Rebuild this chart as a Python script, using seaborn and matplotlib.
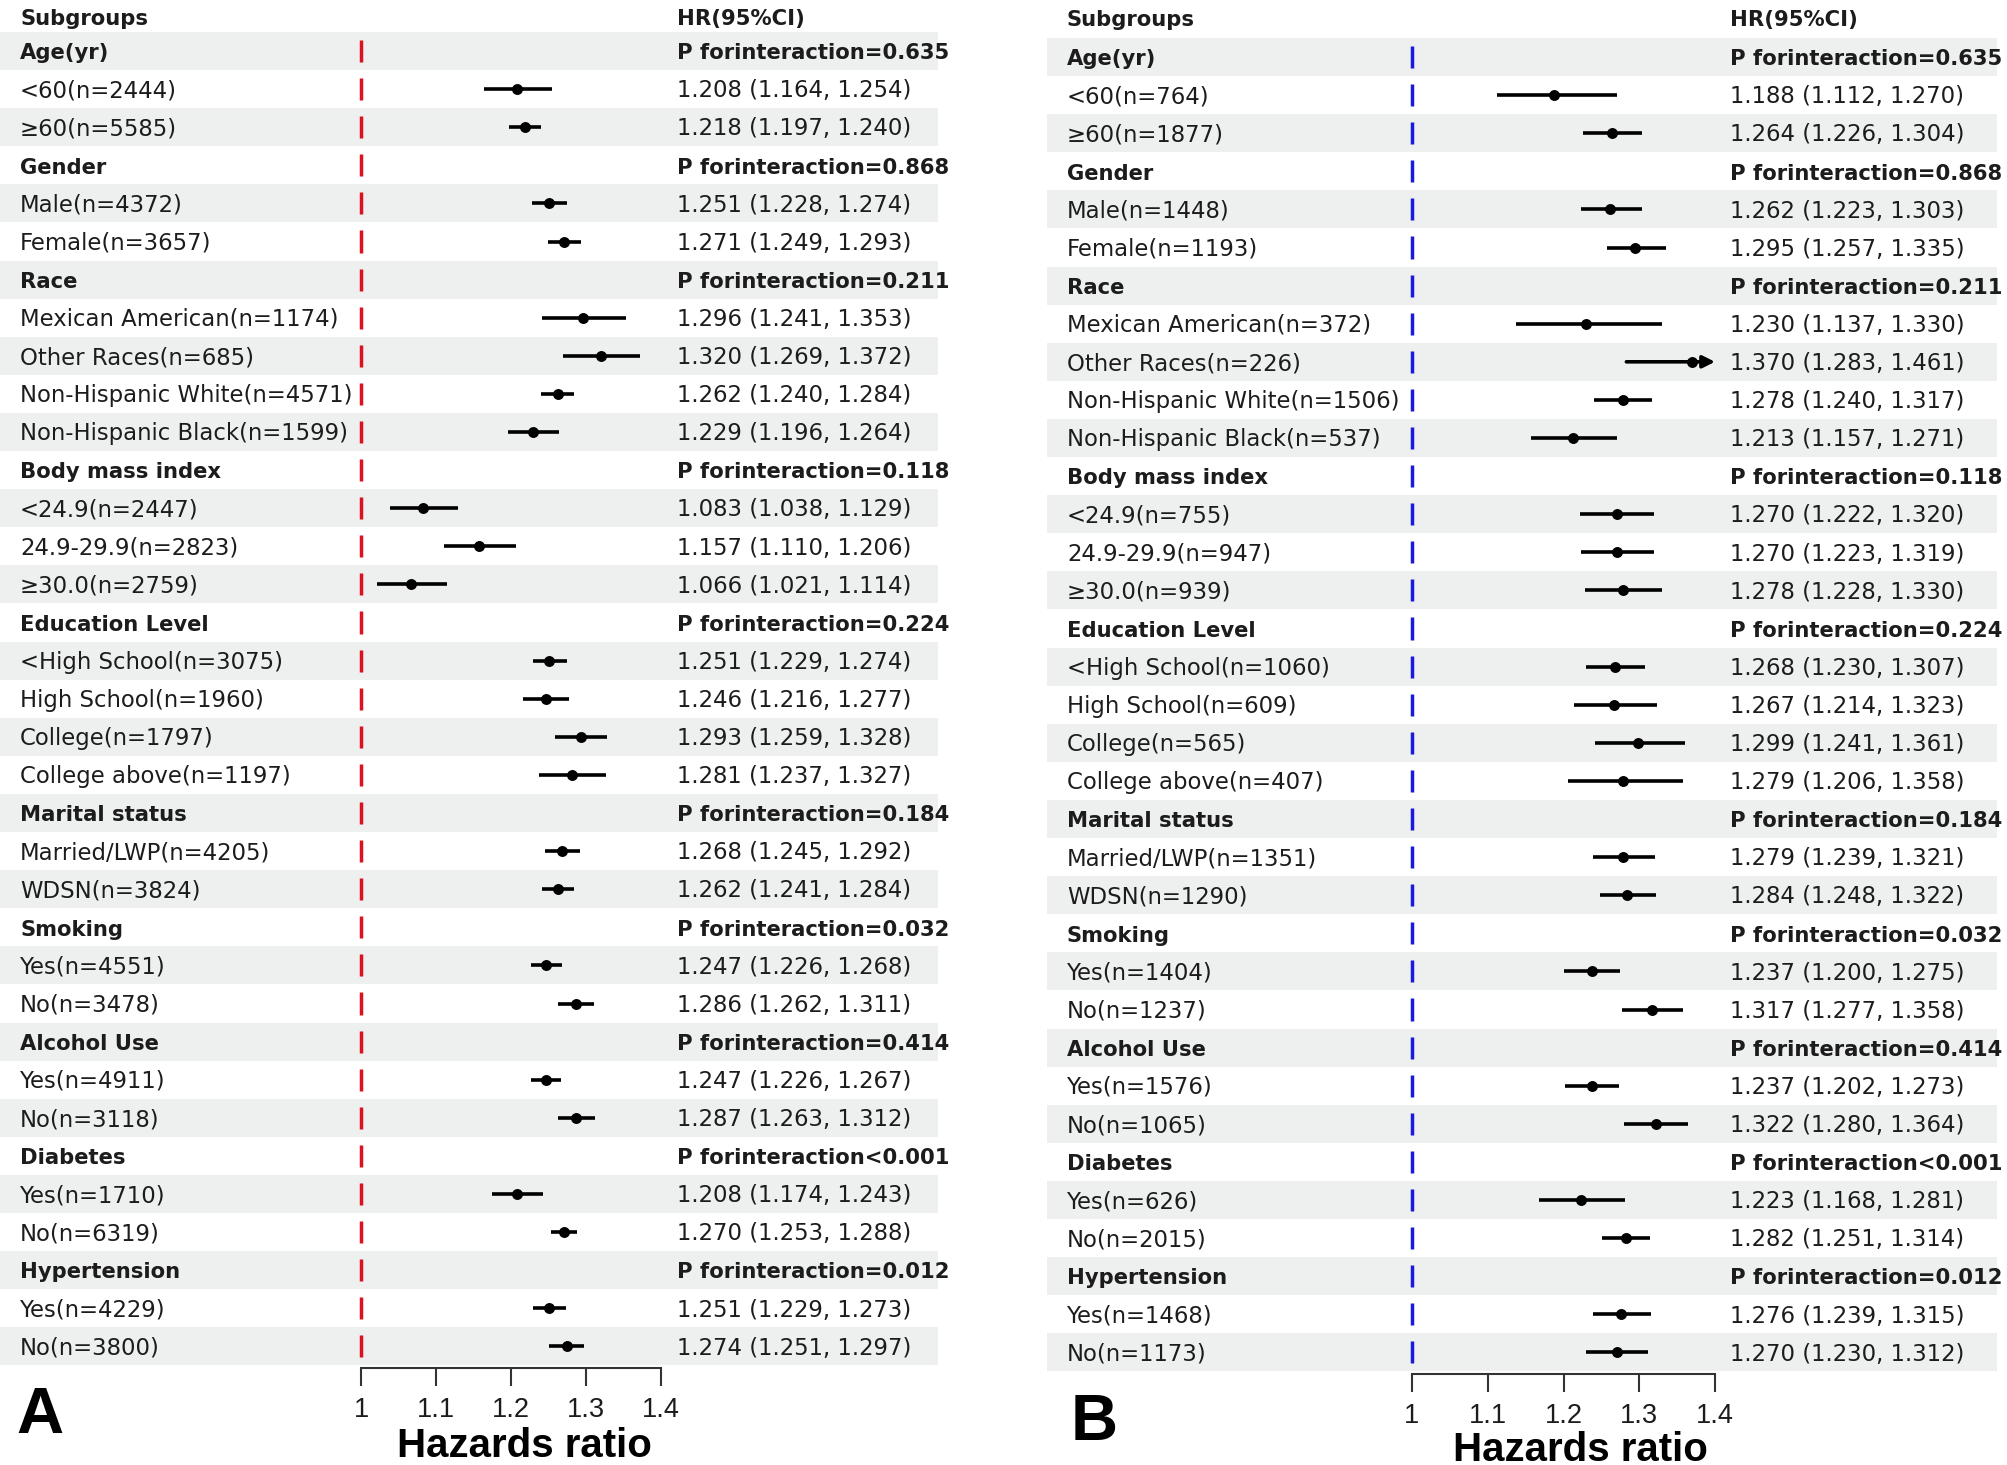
import numpy as np
import pandas as pd
import matplotlib
matplotlib.use("Agg")
import matplotlib.pyplot as plt
import seaborn as sns

# ---- data ----
groups = ["Age(yr)", "Gender", "Race", "Body mass index", "Education Level",
          "Marital status", "Smoking", "Alcohol Use", "Diabetes", "Hypertension"]
p_inter = ["=0.635", "=0.868", "=0.211", "=0.118", "=0.224",
           "=0.184", "=0.032", "=0.414", "<0.001", "=0.012"]
subgroups = [["<60", "≥60"], ["Male", "Female"],
             ["Mexican American", "Other Races", "Non-Hispanic White", "Non-Hispanic Black"],
             ["<24.9", "24.9-29.9", "≥30.0"],
             ["<High School", "High School", "College", "College above"],
             ["Married/LWP", "WDSN"], ["Yes", "No"], ["Yes", "No"], ["Yes", "No"], ["Yes", "No"]]

n_a = [2444, 5585, 4372, 3657, 1174, 685, 4571, 1599, 2447, 2823, 2759, 3075, 1960,
       1797, 1197, 4205, 3824, 4551, 3478, 4911, 3118, 1710, 6319, 4229, 3800]
hr_a = [1.208, 1.218, 1.251, 1.271, 1.296, 1.320, 1.262, 1.229, 1.083, 1.157, 1.066, 1.251, 1.246,
        1.293, 1.281, 1.268, 1.262, 1.247, 1.286, 1.247, 1.287, 1.208, 1.270, 1.251, 1.274]
lo_a = [1.164, 1.197, 1.228, 1.249, 1.241, 1.269, 1.240, 1.196, 1.038, 1.110, 1.021, 1.229, 1.216,
        1.259, 1.237, 1.245, 1.241, 1.226, 1.262, 1.226, 1.263, 1.174, 1.253, 1.229, 1.251]
hi_a = [1.254, 1.240, 1.274, 1.293, 1.353, 1.372, 1.284, 1.264, 1.129, 1.206, 1.114, 1.274, 1.277,
        1.328, 1.327, 1.292, 1.284, 1.268, 1.311, 1.267, 1.312, 1.243, 1.288, 1.273, 1.297]

n_b = [764, 1877, 1448, 1193, 372, 226, 1506, 537, 755, 947, 939, 1060, 609,
       565, 407, 1351, 1290, 1404, 1237, 1576, 1065, 626, 2015, 1468, 1173]
hr_b = [1.188, 1.264, 1.262, 1.295, 1.230, 1.370, 1.278, 1.213, 1.270, 1.270, 1.278, 1.268, 1.267,
        1.299, 1.279, 1.279, 1.284, 1.237, 1.317, 1.237, 1.322, 1.223, 1.282, 1.276, 1.270]
lo_b = [1.112, 1.226, 1.223, 1.257, 1.137, 1.283, 1.240, 1.157, 1.222, 1.223, 1.228, 1.230, 1.214,
        1.241, 1.206, 1.239, 1.248, 1.200, 1.277, 1.202, 1.280, 1.168, 1.251, 1.239, 1.230]
hi_b = [1.270, 1.304, 1.303, 1.335, 1.330, 1.461, 1.317, 1.271, 1.320, 1.319, 1.330, 1.307, 1.323,
        1.361, 1.358, 1.321, 1.322, 1.275, 1.358, 1.273, 1.364, 1.281, 1.314, 1.315, 1.312]

x_ticks = [1, 1.1, 1.2, 1.3, 1.4]
x_ticklabels = ["1", "1.1", "1.2", "1.3", "1.4"]

sns.set_theme(style="white")
plt.rcParams["font.family"] = ["DejaVu Sans"]

W, H = 2007, 1465
fig = plt.figure(figsize=(W / 100, H / 100), dpi=100)

BAND = "#eef0ef"
TXT = "#1c1c1c"
ROW = 38.1  # px per row
FS_REG, FS_BOLD = 16.4, 15.2
CAP_SHIFT = 0.72 * FS_REG * 100 / 72 / 2 / ROW  # half cap height, in rows


def build_table(n, hr, lo, hi):
    rows = []
    k = 0
    for g, p, subs in zip(groups, p_inter, subgroups):
        rows.append(dict(label=g, head=True, text="P forinteraction" + p,
                         hr=np.nan, lo=np.nan, hi=np.nan))
        for s in subs:
            rows.append(dict(label=f"{s}(n={n[k]})", head=False,
                             text=f"{hr[k]:.3f} ({lo[k]:.3f}, {hi[k]:.3f})",
                             hr=hr[k], lo=lo[k], hi=hi[k]))
            k += 1
    df = pd.DataFrame(rows)
    df["row"] = np.arange(len(df))
    return df


def draw_panel(df, left, right, row0, one_px, px_per_unit, ref_color,
               text_px, hdr_row, letter, letter_xy, title_xy):
    top = row0 - ROW / 2
    bottom = row0 + (len(df) - 0.5) * ROW
    ax = fig.add_axes([left / W, 1 - bottom / H, (right - left) / W, (bottom - top) / H])
    ax.set_xlim(1 - (one_px - left) / px_per_unit, 1 + (right - one_px) / px_per_unit)

    # alternating row bands
    for r in df["row"]:
        if r % 2 == 0:
            ax.axhspan(r - 0.5, r + 0.5, color=BAND, lw=0, zorder=0)

    # reference line at HR = 1 (one dash per row)
    ax.vlines(np.ones(len(df)), df["row"] - 0.29, df["row"] + 0.29,
              color=ref_color, lw=2.5, zorder=2)

    d = df[~df["head"]]
    xmax = x_ticks[-1]
    clipped = d["hi"] > xmax
    ax.hlines(d.loc[~clipped, "row"], d.loc[~clipped, "lo"], d.loc[~clipped, "hi"],
              color="black", lw=2.6, zorder=3)
    for _, r in d[clipped].iterrows():
        ax.annotate("", xy=(xmax, r["row"]), xytext=(r["lo"], r["row"]),
                    arrowprops=dict(arrowstyle="-|>", lw=2.6, color="black",
                                    mutation_scale=18, shrinkA=0, shrinkB=0), zorder=3)
    sns.scatterplot(data=d, x="hr", y="row", ax=ax, color="black", s=62,
                    linewidth=0, zorder=4, legend=False)

    tr = ax.get_yaxis_transform()
    lab_x = 20 / (right - left)
    txt_x = (text_px - left) / (right - left)
    for _, r in df.iterrows():
        w = "bold" if r["head"] else "normal"
        fs = FS_BOLD if r["head"] else FS_REG
        y = r["row"] + CAP_SHIFT
        ax.text(lab_x, y, r["label"], transform=tr, ha="left", va="baseline",
                fontsize=fs, fontweight=w, color=TXT)
        ax.text(txt_x, y, r["text"], transform=tr, ha="left", va="baseline",
                fontsize=fs, fontweight=w, color=TXT)
    ax.text(lab_x, hdr_row + CAP_SHIFT, "Subgroups", transform=tr, ha="left", va="baseline",
            fontsize=FS_BOLD, fontweight="bold", color=TXT)
    ax.text(txt_x, hdr_row + CAP_SHIFT, "HR(95%CI)", transform=tr, ha="left", va="baseline",
            fontsize=FS_BOLD, fontweight="bold", color=TXT)

    ax.set_ylim(len(df) - 0.5, -0.5)
    ax.set_yticks([])
    ax.set_xlabel("")
    ax.set_ylabel("")
    for s in ["top", "left", "right"]:
        ax.spines[s].set_visible(False)
    sp = ax.spines["bottom"]
    sp.set_bounds(x_ticks[0], x_ticks[-1])
    sp.set_position(("outward", 2))
    sp.set_color("#333333")
    sp.set_linewidth(1.5)
    ax.set_xticks(x_ticks)
    ax.set_xticklabels(x_ticklabels, family=["Liberation Sans", "DejaVu Sans"],
                       fontsize=19.5, color=TXT)
    ax.tick_params(axis="x", direction="out", length=13, width=1.5,
                   color="#333333", pad=8, bottom=True)
    ax.patch.set_alpha(0)

    fig.text(title_xy[0] / W, 1 - title_xy[1] / H, "Hazards ratio", ha="center", va="center",
             family=["Liberation Sans", "DejaVu Sans"], fontsize=29, fontweight="bold", color="black")
    fig.text(letter_xy[0] / W, 1 - letter_xy[1] / H, letter, ha="center", va="center",
             family=["Liberation Sans", "DejaVu Sans"], fontsize=47, fontweight="bold", color="black")
    return ax


df_a = build_table(n_a, hr_a, lo_a, hi_a)
df_b = build_table(n_b, hr_b, lo_b, hi_b)

draw_panel(df_a, left=0, right=938, row0=51, one_px=361, px_per_unit=750,
           ref_color="#dd1020", text_px=677, hdr_row=-0.9, letter="A",
           letter_xy=(40, 1416), title_xy=(524, 1446))
draw_panel(df_b, left=1047, right=1997, row0=57, one_px=1412, px_per_unit=757.5,
           ref_color="#1a1adc", text_px=1730, hdr_row=-1.02, letter="B",
           letter_xy=(1094, 1423), title_xy=(1580, 1450))

fig.savefig("out.png", dpi=100, facecolor="white")
